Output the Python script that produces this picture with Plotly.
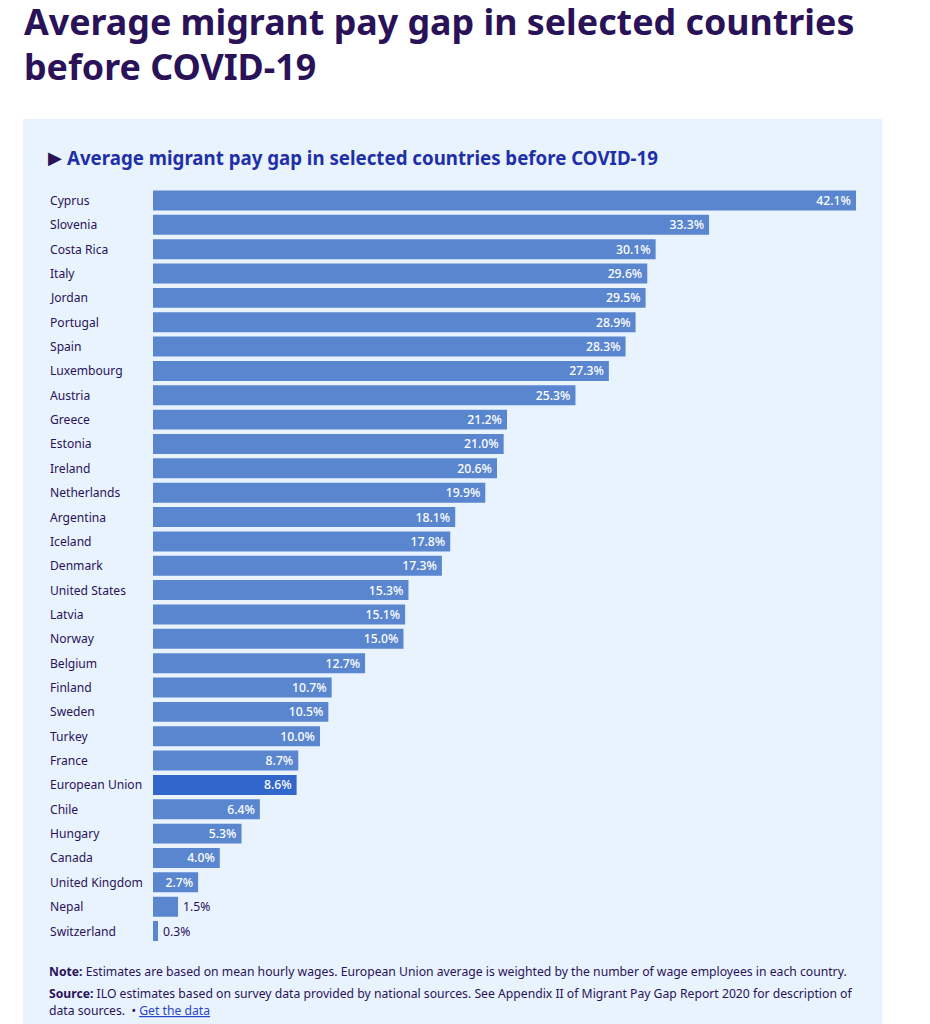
import plotly.graph_objects as go

W = 930
H = 1024

countries = ["Cyprus", "Slovenia", "Costa Rica", "Italy", "Jordan", "Portugal", "Spain",
             "Luxembourg", "Austria", "Greece", "Estonia", "Ireland", "Netherlands",
             "Argentina", "Iceland", "Denmark", "United States", "Latvia", "Norway",
             "Belgium", "Finland", "Sweden", "Turkey", "France", "European Union",
             "Chile", "Hungary", "Canada", "United Kingdom", "Nepal", "Switzerland"]
gap = [42.1, 33.3, 30.1, 29.6, 29.5, 28.9, 28.3, 27.3, 25.3, 21.2, 21.0, 20.6, 19.9,
       18.1, 17.8, 17.3, 15.3, 15.1, 15.0, 12.7, 10.7, 10.5, 10.0, 8.7, 8.6, 6.4, 5.3,
       4.0, 2.7, 1.5, 0.3]

BAR = "#5a86cf"
BAR_EU = "#3166cc"
PANEL = "#e8f3fe"
DARK = "#2a1259"
BLUE = "#1f2fa8"
BODY = "Noto Sans"
HEAD = "Noto Sans"


def px_x(v):
    return v / W


def px_y(v):
    return 1 - v / H


fig = go.Figure()

# thin spaces nudge the value labels away from the bar end
fig.add_trace(go.Bar(
    y=countries,
    x=gap,
    orientation="h",
    marker=dict(color=[BAR_EU if c == "European Union" else BAR for c in countries], line_width=0),
    text=[f"\u2009{v:.1f}%" if v < 2 else f"{v:.1f}%\u2009" for v in gap],
    textposition=["outside" if v < 2 else "inside" for v in gap],
    insidetextanchor="end",
    constraintext="none",
    cliponaxis=False,
    textangle=0,
    insidetextfont=dict(family=BODY, size=12.2, color="white", weight=500),
    outsidetextfont=dict(family=BODY, size=12.2, color=DARK),
    hoverinfo="skip",
))

# country names are left aligned, tick labels can't do that
for c in countries:
    fig.add_annotation(x=px_x(48), xref="paper", y=c, yref="y", text=c, showarrow=False,
                       xanchor="left", font=dict(family=BODY, size=12.1, color=DARK))


def page_text(x, y, text, size, color, family=BODY):
    fig.add_annotation(x=px_x(x), y=px_y(y), xref="paper", yref="paper", text=text,
                       showarrow=False, xanchor="left", yanchor="middle", align="left",
                       font=dict(family=family, size=size, color=color))


page_text(22, 66, "<b>before COVID-19</b>", 35.8, DARK, HEAD)
page_text(46, 157, "▶", 18, DARK, "DejaVu Sans")
page_text(65, 157, "<b>Average migrant pay gap in selected countries before COVID-19</b>", 18.7, BLUE, HEAD)
page_text(47, 971, "<b>Note:</b> Estimates are based on mean hourly wages. European Union average is "
          "weighted by the number of wage employees in each country.", 12.2, DARK)
page_text(47, 993, "<b>Source:</b> ILO estimates based on survey data provided by national sources. "
          "See Appendix II of Migrant Pay Gap Report 2020 for description of", 12.2, DARK)
page_text(47, 1010, 'data sources.  • <a href="https://www.ilo.org" style="color:#2a46c8"><u>Get the data</u></a>',
          12.2, DARK)

fig.add_shape(type="rect", xref="paper", yref="paper", layer="below", line_width=0, fillcolor=PANEL,
              x0=px_x(23), x1=px_x(882), y0=px_y(119), y1=0)

fig.update_layout(
    width=W,
    height=H,
    margin=dict(l=0, r=0, t=0, b=0),
    paper_bgcolor="white",
    plot_bgcolor="rgba(0,0,0,0)",
    showlegend=False,
    bargap=0.18,
    title=dict(text="<b>Average migrant pay gap in selected countries</b>", x=px_x(24), xanchor="left",
               y=px_y(35), yanchor="bottom", automargin=False,
               font=dict(family=HEAD, size=35.8, color=DARK)),
    xaxis=dict(visible=False, range=[0, 42.1], domain=[px_x(153), px_x(856)]),
    yaxis=dict(visible=False, categoryorder="array", categoryarray=countries, autorange="reversed",
               domain=[px_y(943.2), px_y(188.3)]),
)

fig.write_html("out.html", config=dict(displayModeBar=False), post_script="document.body.style.margin='0';")
